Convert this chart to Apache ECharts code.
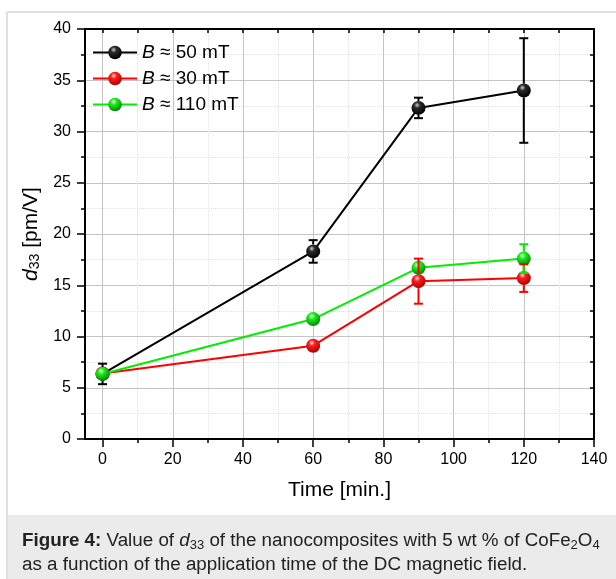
<!DOCTYPE html>
<html>
<head>
<meta charset="utf-8">
<script src="https://cdn.jsdelivr.net/npm/echarts@6/dist/echarts.min.js"></script>
<style>
html,body{margin:0;padding:0;background:#fff;}
#chart{width:616px;height:579px;}
</style>
</head>
<body>
<div id="chart"></div>
<script>
// 数据
var times = [0, 60, 90, 120];
var names = ['B ≈ 50 mT', 'B ≈ 30 mT', 'B ≈ 110 mT'];
var d50 = [6.35, 18.3, 32.3, 34.0];
var err50 = [1.0, 1.1, 1.0, 5.1];
var d30 = [6.4, 9.1, 15.4, 15.7];
var err30 = [0, 0, 2.2, 1.35];
var d110 = [6.35, 11.7, 16.7, 17.6];
var err110 = [0, 0, 0, 1.4];
var xMajor = [0, 20, 40, 60, 80, 100, 120, 140];
var xMinor = [10, 30, 50, 70, 90, 110, 130];
var xAll = [0, 10, 20, 30, 40, 50, 60, 70, 80, 90, 100, 110, 120, 130, 140];

var FONT = 'Liberation Sans, Arial, sans-serif';
var colors = ['#000000', '#ff0000', '#00ee00'];

function ball(c0, c1, c2) {
	return new echarts.graphic.RadialGradient(0.4, 0.3, 0.7, [
		{offset: 0, color: c0},
		{offset: 0.3, color: c1},
		{offset: 1, color: c2}
	]);
}
var balls = [
	ball('#cfcfcf', '#2a2a2a', '#000000'),
	ball('#ffe0e0', '#ff2020', '#b00000'),
	ball('#eaffea', '#22ee22', '#008800')
];

function pts(vals) {
	var out = [];
	for (var i = 0; i < times.length; i++) out.push([times[i], vals[i]]);
	return out;
}
function errPts(vals, errs) {
	var out = [];
	for (var i = 0; i < times.length; i++) {
		if (errs[i] > 0) out.push([times[i], vals[i], vals[i] - errs[i], vals[i] + errs[i]]);
	}
	return out;
}

// 误差棒，留出小球的空隙
function errRender(color) {
	return function(params, api) {
		var c = api.coord([api.value(0), api.value(1)]);
		var lo = api.coord([api.value(0), api.value(2)]);
		var hi = api.coord([api.value(0), api.value(3)]);
		var r = 7, w = 4.5;
		var st = {stroke: color, lineWidth: 2};
		var kids = [
			{type: 'line', shape: {x1: hi[0] - w, y1: hi[1], x2: hi[0] + w, y2: hi[1]}, style: st},
			{type: 'line', shape: {x1: lo[0] - w, y1: lo[1], x2: lo[0] + w, y2: lo[1]}, style: st}
		];
		if (c[1] - hi[1] > r) kids.push({type: 'line', shape: {x1: c[0], y1: hi[1], x2: c[0], y2: c[1] - r}, style: st});
		if (lo[1] - c[1] > r) kids.push({type: 'line', shape: {x1: c[0], y1: c[1] + r, x2: c[0], y2: lo[1]}, style: st});
		return {type: 'group', children: kids};
	};
}

var allVals = [d50, d30, d110];
var allErrs = [err50, err30, err110];
var series = [];
for (var k = 0; k < 3; k++) {
	series.push({
		name: names[k],
		type: 'line',
		data: pts(allVals[k]),
		symbol: 'circle',
		symbolSize: 14,
		z: 2 + k,
		lineStyle: {color: colors[k], width: 2},
		itemStyle: {color: balls[k]},
		emphasis: {disabled: true},
		animation: false
	});
}
for (var k = 0; k < 3; k++) {
	series.push({
		type: 'custom',
		data: errPts(allVals[k], allErrs[k]),
		renderItem: errRender(colors[k]),
		z: 6,
		silent: true,
		animation: false
	});
}

var myChart = echarts.init(document.getElementById('chart'));
var option = {
	backgroundColor: '#fff',
	animation: false,
	textStyle: {fontFamily: FONT},
	grid: {left: 85, right: 22, top: 29, bottom: 140},
	legend: {
		orient: 'vertical',
		left: 87,
		top: 38,
		itemWidth: 44,
		itemHeight: 17,
		itemGap: 7,
		data: names,
		formatter: function(n) { return '{i|B}' + n.substring(1); },
		textStyle: {
			fontSize: 19, color: '#000', fontFamily: FONT,
			rich: {i: {fontStyle: 'italic', fontSize: 19, color: '#000', fontFamily: FONT}}
		}
	},
	xAxis: [
		{
			type: 'value', position: 'bottom', min: -5, max: 140,
			name: 'Time [min.]', nameLocation: 'middle', nameGap: 41,
			nameTextStyle: {fontSize: 21, color: '#000', fontFamily: FONT},
			axisLine: {onZero: false, lineStyle: {color: '#000', width: 2}},
			axisTick: {customValues: xMajor, length: 8, lineStyle: {color: '#000', width: 1.5}},
			axisLabel: {customValues: xMajor, fontSize: 16, color: '#000', margin: 13, fontFamily: FONT},
			splitLine: {show: true, lineStyle: {color: '#c4c4c4', width: 1}}
		},
		{
			type: 'value', position: 'bottom', min: -5, max: 140,
			axisLine: {show: false, onZero: false},
			axisTick: {customValues: xMinor, length: 4, lineStyle: {color: '#000', width: 1.5}},
			axisLabel: {show: false},
			splitLine: {show: true, lineStyle: {color: '#e2e2e2', width: 1, type: 'dotted'}}
		},
		{
			type: 'value', position: 'top', min: -5, max: 140,
			axisLine: {onZero: false, lineStyle: {color: '#000', width: 2}},
			axisTick: {customValues: xAll, inside: true, length: 4, lineStyle: {color: '#000', width: 1.5}},
			axisLabel: {show: false},
			splitLine: {show: false}
		}
	],
	yAxis: [
		{
			type: 'value', position: 'left', min: 0, max: 40, interval: 5,
			name: '{i|d}{sub|33} [pm/V]', nameLocation: 'middle', nameGap: 41, nameRotate: 90,
			nameTextStyle: {
				fontSize: 21, color: '#000', fontFamily: FONT,
				rich: {
					i: {fontStyle: 'italic', fontSize: 21, color: '#000', fontFamily: FONT},
					sub: {fontSize: 14, color: '#000', padding: [9, 0, 0, 0], fontFamily: FONT}
				}
			},
			axisLine: {onZero: false, lineStyle: {color: '#000', width: 2}},
			axisTick: {length: 8, lineStyle: {color: '#000', width: 1.5}},
			minorTick: {show: true, splitNumber: 2, length: 4, lineStyle: {color: '#000', width: 1.5}},
			axisLabel: {fontSize: 16, color: '#000', margin: 14, fontFamily: FONT},
			splitLine: {show: true, lineStyle: {color: '#c4c4c4', width: 1}},
			minorSplitLine: {show: true, lineStyle: {color: '#e2e2e2', width: 1, type: 'dotted'}}
		},
		{
			type: 'value', position: 'right', min: 0, max: 40, interval: 2.5,
			axisLine: {show: true, onZero: false, lineStyle: {color: '#000', width: 2}},
			axisTick: {inside: true, length: 4, lineStyle: {color: '#000', width: 1.5}},
			axisLabel: {show: false},
			splitLine: {show: false}
		}
	],
	graphic: [
		{type: 'line', shape: {x1: 7, y1: 12, x2: 616, y2: 12}, style: {stroke: '#e0e0e0', lineWidth: 2}, silent: true},
		{type: 'line', shape: {x1: 7, y1: 12, x2: 7, y2: 579}, style: {stroke: '#e0e0e0', lineWidth: 2}, silent: true},
		{type: 'rect', shape: {x: 8, y: 515, width: 608, height: 64}, style: {fill: '#ebebeb'}, silent: true},
		{
			type: 'text', left: 22, top: 529, silent: true,
			style: {
				text: '{b|Figure 4:} Value of {i|d}{sub|33} of the nanocomposites with 5 wt % of CoFe{sub|2}O{sub|4}\nas a function of the application time of the DC magnetic field.',
				fontSize: 18.8, fontFamily: FONT, fill: '#222', lineHeight: 24,
				rich: {
					b: {fontWeight: 'bold', fontSize: 18.8, fontFamily: FONT, fill: '#222'},
					i: {fontStyle: 'italic', fontSize: 18.8, fontFamily: FONT, fill: '#222'},
					sub: {fontSize: 13, fontFamily: FONT, fill: '#222', padding: [8, 0, 0, 0]}
				}
			}
		}
	],
	series: series
};
myChart.setOption(option);
</script>
</body>
</html>
